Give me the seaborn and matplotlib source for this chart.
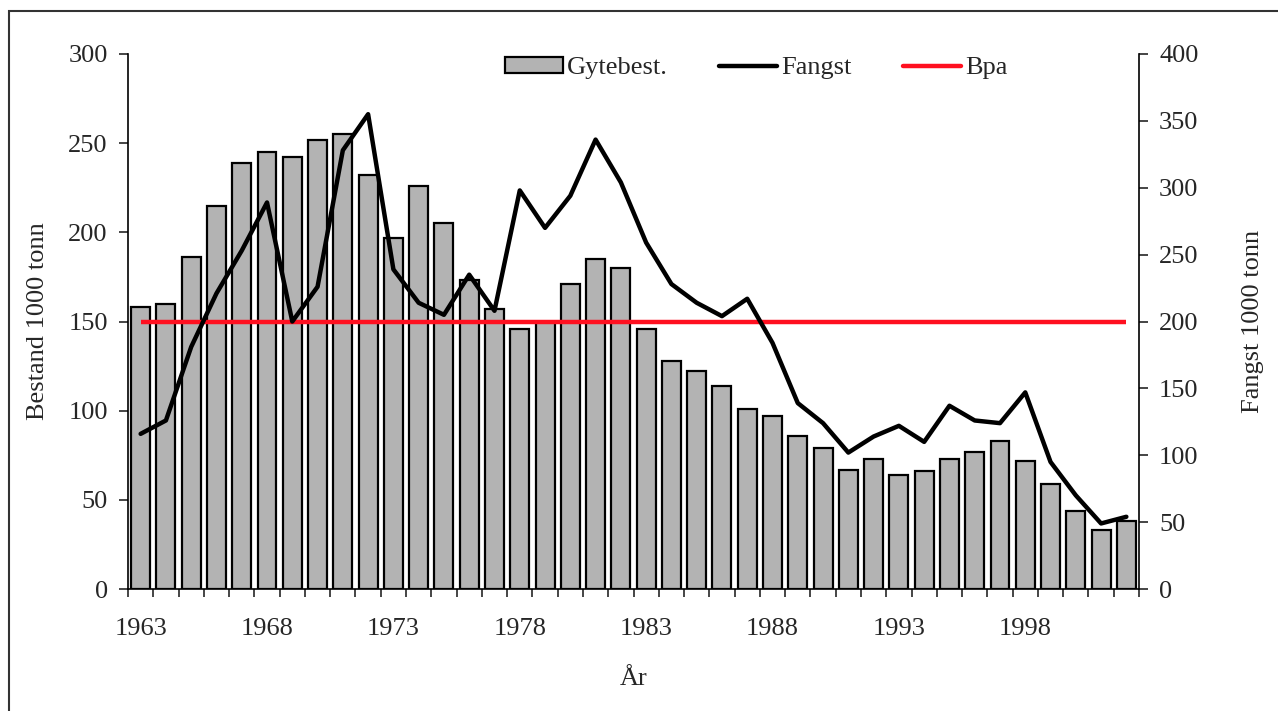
import numpy as np
import matplotlib.pyplot as plt
import seaborn as sns
from matplotlib.patches import Rectangle, Patch
from matplotlib.lines import Line2D
from matplotlib.ticker import FixedLocator, MultipleLocator

years = list(range(1963, 2003))
gytebest = [158, 160, 186, 215, 239, 245, 242, 252, 255, 232,
            197, 226, 205, 173, 157, 146, 150, 171, 185, 180,
            146, 128, 122, 114, 101, 97, 86, 79, 67, 73,
            64, 66, 73, 77, 83, 72, 59, 44, 33, 38]
fangst = [116, 126, 181, 221, 253, 289, 200, 226, 328, 355,
          239, 214, 205, 235, 208, 298, 270, 294, 336, 304,
          259, 228, 214, 204, 217, 184, 139, 124, 102, 114,
          122, 110, 137, 126, 124, 147, 95, 70, 49, 54]
bpa = 150
label_years = [1963, 1968, 1973, 1978, 1983, 1988, 1993, 1998]

sns.set_style("ticks")
plt.rcParams["font.family"] = ["Liberation Serif", "DejaVu Serif"]
plt.rcParams["font.size"] = 19

fig = plt.figure(figsize=(12.78, 7.11), dpi=100)
ax = fig.add_axes([128 / 1278, 1 - 589 / 711, (1139 - 128) / 1278, (589 - 54) / 711])

pos = np.arange(len(years))
sns.barplot(x=years, y=gytebest, ax=ax, color="#b3b3b3", saturation=1,
            edgecolor="black", linewidth=1.6, width=0.75, zorder=2)
ax.hlines(bpa, pos[0], pos[-1], color="#ff1020", lw=3.2, zorder=3)

ax2 = ax.twinx()
sns.lineplot(x=pos, y=fangst, ax=ax2, color="black", lw=3.2)

# x axis: category ticks between bars, labels every 5 years
ax.set_xlim(-0.5, len(years) - 0.5)
ax.xaxis.set_major_locator(FixedLocator([years.index(y) for y in label_years]))
ax.set_xticklabels([str(y) for y in label_years])
ax.xaxis.set_minor_locator(FixedLocator(np.arange(-0.5, len(years), 1.0)))
ax.tick_params(axis="x", which="major", length=0, pad=21)
ax.tick_params(axis="x", which="minor", length=6, width=1.2, direction="out")

ax.set_ylim(0, 300)
ax.yaxis.set_major_locator(MultipleLocator(50))
ax.tick_params(axis="y", length=6.5, width=1.2, pad=8)
ax2.set_ylim(0, 400)
ax2.yaxis.set_major_locator(MultipleLocator(50))
ax2.tick_params(axis="y", length=6.5, width=1.2, pad=8)

for s in ["top", "right"]:
    ax.spines[s].set_visible(False)
for s in ["top", "left", "bottom"]:
    ax2.spines[s].set_visible(False)
for a in (ax, ax2):
    for s in a.spines.values():
        s.set_linewidth(1.2)
        s.set_color("black")

ax.set_xlabel("År", labelpad=20)
ax.set_ylabel("Bestand 1000 tonn", labelpad=14)
ax2.set_ylabel("Fangst 1000 tonn", labelpad=31)

handles = [Patch(facecolor="#b3b3b3", edgecolor="black", linewidth=1.6),
           Line2D([], [], color="black", lw=3.2),
           Line2D([], [], color="#ff1020", lw=3.2)]
fig.legend(handles, ["Gytebest.", "Fangst", "Bpa"], loc="center left",
           bbox_to_anchor=(505 / 1278, 1 - 68 / 711), ncol=3, frameon=False,
           borderpad=0, borderaxespad=0, handlelength=2.2, handletextpad=0.15,
           columnspacing=1.95, handleheight=0.6)

fig.add_artist(Rectangle((9 / 1278, -0.1), 1.2, 1.1 - 11 / 711, transform=fig.transFigure,
                         fill=False, edgecolor="#333333", lw=1.5, clip_on=False))

fig.savefig("out.png", dpi=100)
plt.close(fig)
